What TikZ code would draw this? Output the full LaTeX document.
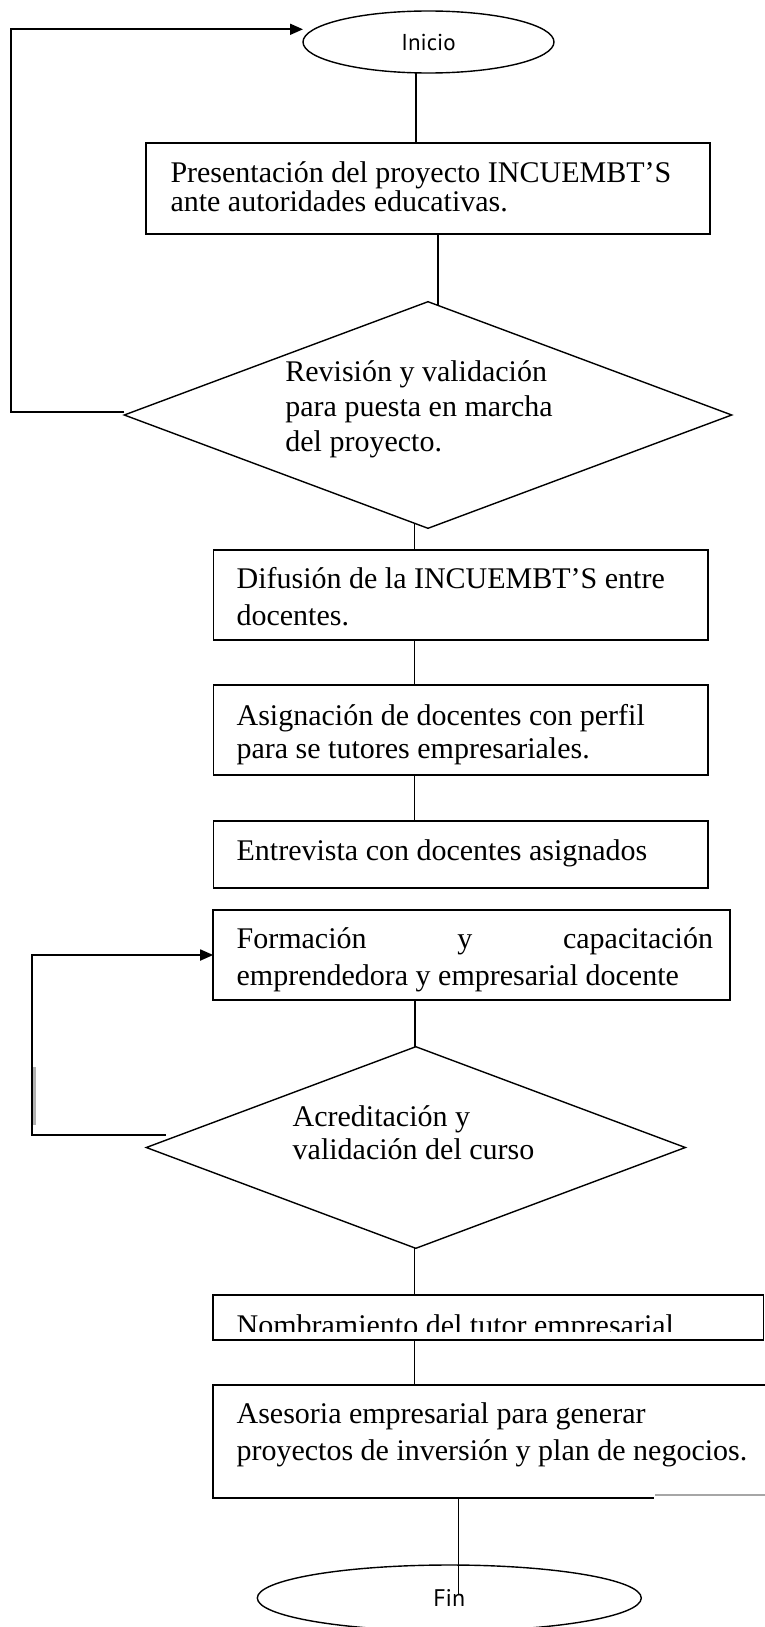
\documentclass[tikz,border=0pt]{standalone}
\usepackage{fontspec}
\setmainfont{Liberation Serif}
\newfontfamily\termfont{PT Sans}
\usetikzlibrary{shapes.geometric,arrows.meta,calc}
\newcommand\mylines[2]{\vtop{\baselineskip=#1pt\lineskiplimit=-100pt #2}}
\tikzset{
  boxst/.style={draw, rectangle, line width=1.8pt, inner sep=0pt, outer sep=0pt},
  decst/.style={draw, diamond, line width=1.4pt, inner sep=0pt, outer sep=0pt},
  termst/.style={draw, ellipse, line width=1.4pt, inner sep=0pt, outer sep=0pt},
  conn/.style={line width=1.2pt},
  thickconn/.style={line width=1.8pt},
  loopst/.style={line width=1.8pt},
  arrowst/.style={-{Triangle[length=13pt,width=11pt]}},
  txt/.style={anchor=base west, inner sep=0pt, outer sep=0pt, font=\fontsize{30}{36}\selectfont},
}
\begin{document}
\begin{tikzpicture}[x=1pt,y=-1pt]
\fill[white] (0,0) rectangle (765,1627);
\useasboundingbox (0,0) rectangle (765,1627);

% terminals
\node[termst, minimum width=251pt, minimum height=62pt, font=\termfont\fontsize{23}{26}\selectfont] (ini) at (428.5,42) {Inicio};
\node[termst, minimum width=384pt, minimum height=66pt, font=\termfont\fontsize{24}{28}\selectfont] (fin) at (449.3,1598) {Fin};

% boxes
\node[boxst, minimum width=563.7pt, minimum height=90.7pt] (b1) at (428.2,188.7) {};
\node[txt] (t1) at (170.5,182.3) {\mylines{29.4}{\hbox{Presentación del proyecto INCUEMBT’S}\hbox{ante autoridades educativas.}}};

\node[decst, minimum width=607.4pt, minimum height=226.6pt] (d1) at (428,415) {};
\node[txt] (td1) at (285.4,381) {\mylines{35}{\hbox{Revisión y validación}\hbox{para puesta en marcha}\hbox{del proyecto.}}};

\node[boxst, minimum width=494.8pt, minimum height=90pt] (b2) at (460.9,595) {};
\node[txt] (t2) at (236.6,588.3) {\mylines{36.7}{\hbox{Difusión de la INCUEMBT’S entre}\hbox{docentes.}}};

\node[boxst, minimum width=494.8pt, minimum height=90pt] (b3) at (460.9,730) {};
\node[txt] (t3) at (236.6,725) {\mylines{33}{\hbox{Asignación de docentes con perfil}\hbox{para se tutores empresariales.}}};

\node[boxst, minimum width=494.8pt, minimum height=67.3pt] (b4) at (460.9,854.7) {};
\node[txt] (t4) at (236.6,860) {Entrevista con docentes asignados};

\node[boxst, minimum width=517pt, minimum height=90pt] (b5) at (471.7,955) {};
\node[txt] (t5) at (236.6,948.3) {\mylines{36.7}{\hbox to 476.4pt{Formación\hfill y\hfill capacitación}\hbox{emprendedora y empresarial docente}}};

\node[decst, minimum width=539pt, minimum height=201.6pt] (d2) at (415.8,1147.5) {};
\node[txt] (td2) at (292.7,1126) {\mylines{33.3}{\hbox{Acreditación y}\hbox{validación del curso}}};

\node[boxst, minimum width=550.3pt, minimum height=45pt] (b6) at (488.35,1317.5) {};
\begin{scope}
\clip (200,1290) rectangle (765,1331.5);
\node[txt] (t6) at (236.6,1335) {Nombramiento del tutor empresarial};
\end{scope}

\node[inner sep=0pt, outer sep=0pt, minimum width=551.8pt, minimum height=113.3pt] (b7) at (489.1,1441.65) {};
\draw[line width=1.8pt] (b7.north east) -- (b7.north west) -- (b7.south west) -- ($(b7.south west)+(440.5,0)$);
\draw[gray!70, line width=2.2pt] ($(b7.south west)+(442,-3)$) -- ($(b7.south east)+(0,-3)$);
\node[txt] (t7) at (236.6,1423) {\mylines{37}{\hbox{Asesoria empresarial para generar}\hbox{proyectos de inversión y plan de negocios.}}};

% connectors
\coordinate (spine) at (414.6,0);
\draw[conn] ($(ini.south)+(-12.5,0)$) coordinate (c0) -- (c0 |- b1.north);
\draw[thickconn] ($(b1.south)+(10,0)$) coordinate (c1) -- ($(c1 |- d1.north)+(0,3.5)$);
\draw[conn] ($(d1.south)+(-13.4,-4.5)$) coordinate (c2) -- (c2 |- b2.north);
\draw[conn] (spine |- b2.south) -- (spine |- b3.north);
\draw[conn] (spine |- b3.south) -- (spine |- b4.north);
\draw[thickconn] (spine |- b5.south) -- (spine |- d2.north);
\draw[conn] (spine |- d2.south) -- (spine |- b6.north);
\draw[conn] (spine |- b6.south) -- (spine |- b7.north);
\coordinate (finin) at ($(fin.center)+(9.2,-3)$);
\draw[thickconn] (finin |- b7.south) -- (finin);

% loops
\coordinate (iniin) at ($(ini.west)+(0,-12.7)$);
\coordinate (loopx1) at (10.7,0);
\draw[loopst, arrowst] ($(d1.west)+(0,-3.3)$) -| (loopx1 |- iniin) -- (iniin);

\coordinate (loopx2) at (31.7,0);
\draw[loopst, arrowst] ($(d2.west)+(19.6,-12.5)$) -| (loopx2 |- b5.west) -- (b5.west);
\draw[gray!60, line width=3pt] (34.5,1067) -- (34.5,1125);
\end{tikzpicture}
\end{document}
